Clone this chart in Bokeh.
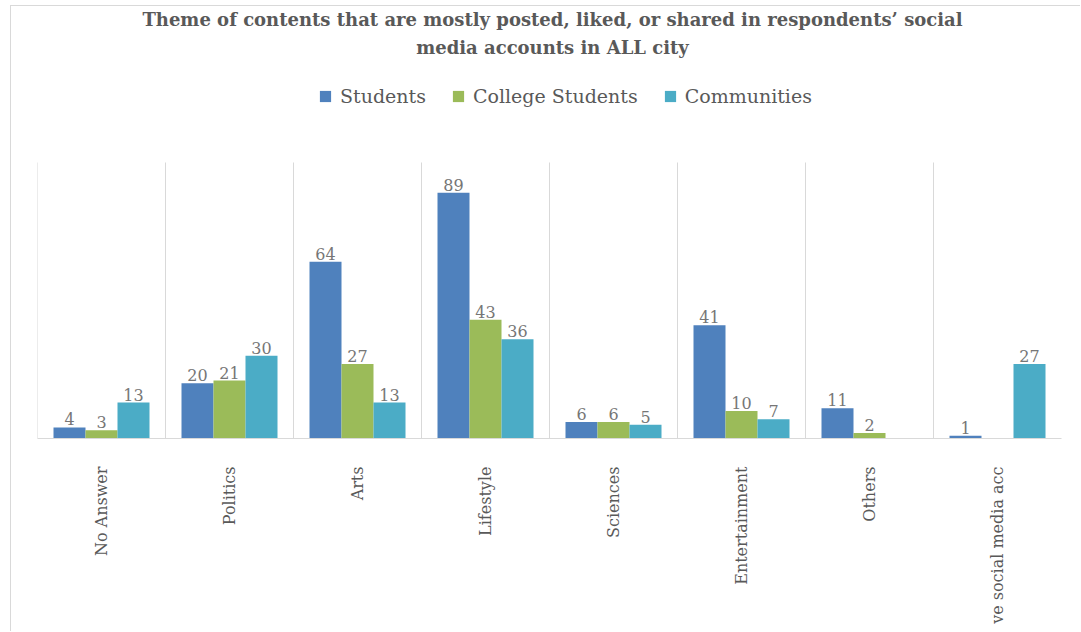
import math
from bokeh.plotting import figure
from bokeh.models import (FactorRange, Range1d, ColumnDataSource, Legend, LegendItem, Label)
from bokeh.transform import dodge
from bokeh.core.properties import value
from bokeh.embed import file_html
from bokeh.resources import INLINE

# ---------------- data ----------------
categories = ["No Answer", "Politics", "Arts", "Lifestyle", "Sciences",
              "Entertainment", "Others", "ve social media acc"]
students = [4, 20, 64, 89, 6, 41, 11, 1]
college_students = [3, 21, 27, 43, 6, 10, 2, 0]
communities = [13, 30, 13, 36, 5, 7, 0, 27]
series_names = ["Students", "College Students", "Communities"]
series_colors = ["#4F81BD", "#9BBB59", "#4BACC6"]
title_lines = ["Theme of contents that are mostly posted, liked, or shared in respondents\u2019 social",
               "media accounts in ALL city"]
value_axis_max = 100

SERIF = "DejaVu Serif"
GRAY = "#595959"

# plot frame spans from the canvas top down to the category axis; the value
# axis maximum (100) sits 276 px above the axis, the space above holds title + legend
FRAME_H = 432
PLOT_H = 276
y_top = value_axis_max * FRAME_H / PLOT_H

p = figure(width=1070, height=626,
           x_range=FactorRange(*categories), y_range=Range1d(0, y_top),
           output_backend="svg", toolbar_location=None,
           min_border_left=26, min_border_right=20,
           min_border_top=0, min_border_bottom=194)
p.styles = {"margin-left": "10px", "margin-top": "5px",
            "border-left": "1px solid #d9d9d9", "border-top": "1px solid #d9d9d9"}
p.outline_line_color = None
p.background_fill_color = "white"
p.border_fill_color = "white"

p.yaxis.visible = False
p.ygrid.visible = False
p.xgrid.visible = False

xa = p.xaxis[0]
xa.axis_line_color = "#d9d9d9"
xa.major_tick_line_color = None
xa.minor_tick_line_color = None
xa.major_label_orientation = math.pi / 2
xa.major_label_text_font = SERIF
xa.major_label_text_font_size = "16px"
xa.major_label_text_color = GRAY
xa.major_label_standoff = 22

# category separators at the left edge of every category, up to the value-axis maximum
sep_src = ColumnDataSource(dict(cat=categories, top=[value_axis_max] * len(categories)))
p.segment(x0=dodge("cat", -0.5, range=p.x_range), y0=0,
          x1=dodge("cat", -0.5, range=p.x_range), y1="top", source=sep_src,
          line_color="#d9d9d9", line_width=1)

series = [students, college_students, communities]
offsets = [-0.25, 0.0, 0.25]
items = []
for name, vals, col, off in zip(series_names, series, series_colors, offsets):
    src = ColumnDataSource(dict(cat=categories, val=vals))
    r = p.vbar(x=dodge("cat", off, range=p.x_range), top="val", width=0.25,
               source=src, fill_color=col, line_color=None)
    items.append(LegendItem(label=name, renderers=[r]))
    lc = [c for c, v in zip(categories, vals) if v != 0]
    lv = [v for v in vals if v != 0]
    lsrc = ColumnDataSource(dict(cat=lc, val=lv, txt=[str(v) for v in lv]))
    p.text(x=dodge("cat", off, range=p.x_range), y="val", text="txt", source=lsrc,
           text_align="center", text_baseline="alphabetic", y_offset=-8,
           text_font=value(SERIF), text_font_size="16px", text_color="#767676")

legend = Legend(items=items, location=(281, 331), orientation="horizontal",
                border_line_color=None, background_fill_alpha=0,
                padding=0, margin=0, spacing=25, label_standoff=8,
                glyph_width=14, glyph_height=14,
                label_text_font=SERIF, label_text_font_size="19px",
                label_text_color=GRAY)
p.add_layout(legend)

for line, yb in zip(title_lines, [419, 391]):
    p.add_layout(Label(x=515, y=yb, x_units="screen", y_units="screen", text=line,
                       text_align="center", text_baseline="alphabetic",
                       text_font=SERIF, text_font_style="bold",
                       text_font_size="18px", text_color=GRAY))

open("out.html", "w").write(file_html(p, INLINE))
